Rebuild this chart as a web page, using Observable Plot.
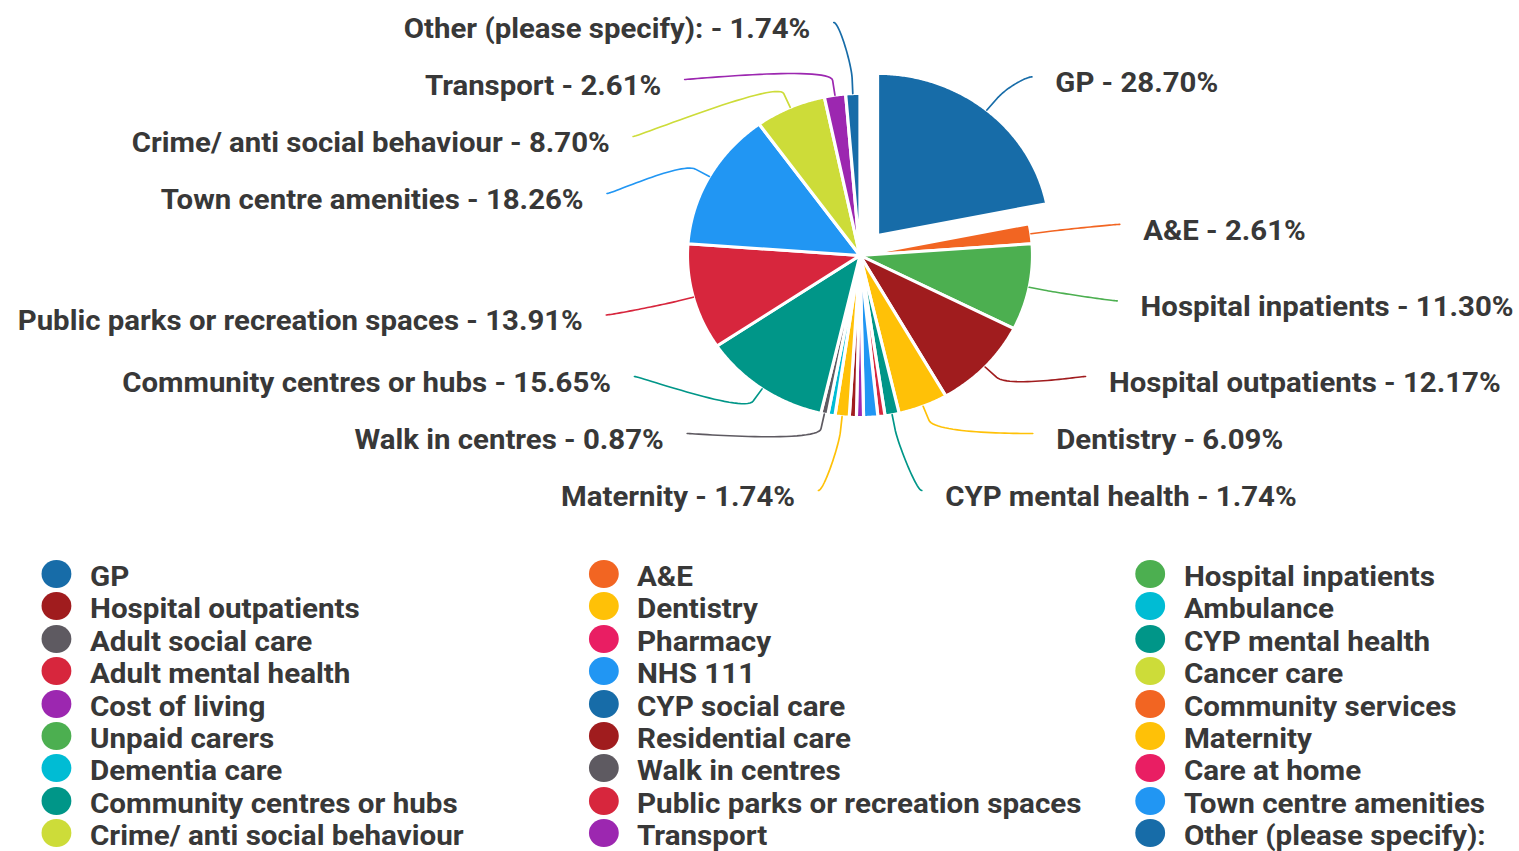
<!DOCTYPE html>
<html>
<head>
<meta charset="utf-8">
<script src="https://cdn.jsdelivr.net/npm/d3@7"></script>
<script src="https://cdn.jsdelivr.net/npm/@observablehq/plot@0.6"></script>
<style>
  html, body { margin: 0; padding: 0; background: #fff; overflow: hidden; }
  #wrap { position: relative; width: 1426px; height: 851px; transform: scaleX(1.065); transform-origin: 0 0; font-family: Roboto, "Noto Sans", sans-serif; }
  #legend { position: absolute; left: 0; top: 0; width: 1426px; }
  .item { position: absolute; height: 32.4px; line-height: 32.4px; white-space: nowrap; color: #383838; font-size: 27.8px; font-weight: 700; }
  .dot { position: absolute; left: 0; top: -1px; width: 28px; height: 28px; border-radius: 50%; }
  .lab { position: absolute; left: 45.3px; top: 0; }
</style>
</head>
<body>
<div id="wrap"><div id="chart"></div><div id="legend"></div></div>
<script>
// ---- data ----
const categories = [
  "GP", "A&E", "Hospital inpatients",
  "Hospital outpatients", "Dentistry", "Ambulance",
  "Adult social care", "Pharmacy", "CYP mental health",
  "Adult mental health", "NHS 111", "Cancer care",
  "Cost of living", "CYP social care", "Community services",
  "Unpaid carers", "Residential care", "Maternity",
  "Dementia care", "Walk in centres", "Care at home",
  "Community centres or hubs", "Public parks or recreation spaces", "Town centre amenities",
  "Crime/ anti social behaviour", "Transport", "Other (please specify):"
];
const percents = [
  28.70, 2.61, 11.30,
  12.17, 6.09, 0,
  0, 0, 1.74,
  0.87, 1.74, 0,
  0.87, 0, 0,
  0, 0.87, 1.74,
  0.87, 0.87, 0,
  15.65, 13.91, 18.26,
  8.70, 2.61, 1.74
];
const slicedCategories = ["GP"];
const palette = ["#176ca8", "#f26522", "#4caf50", "#a01c1e", "#ffc107", "#00bcd4", "#5e5a61",
                 "#e91e63", "#009688", "#d7263d", "#2196f3", "#cddc39", "#9c27b0"];

// ---- layout constants (pre-stretch pixels) ----
const W = 1426, H = 560;
const CX = 807, CY = 255, RADIUS = 162;
const LABEL_R = 231, BOX_H = 57, TOP = 22 - CY, BOTTOM = 490 - CY, MAX_SHIFT = 93;
const SLICE_OFFSET = 26, CONNECTOR_OFFSET = 15, LABEL_PAD = 15, TEXT_GAP = 22;

const total = d3.sum(percents);
let acc = 0;
const slices = categories.map((name, i) => {
  const v = percents[i];
  const a0 = acc / total * 2 * Math.PI; acc += v;
  const a1 = acc / total * 2 * Math.PI;
  return {name, v, a0, a1, mid: (a0 + a1) / 2, i};
}).filter(d => d.v > 0);

// slice polygons
const slicePts = [];
for (const s of slices) {
  const off = slicedCategories.includes(s.name) ? SLICE_OFFSET : 0;
  s.ox = off * Math.sin(s.mid); s.oy = -off * Math.cos(s.mid);
  slicePts.push({name: s.name, x: s.ox, y: s.oy});
  const n = Math.max(2, Math.ceil((s.a1 - s.a0) / (Math.PI / 360)));
  for (let k = 0; k <= n; k++) {
    const a = s.a0 + (s.a1 - s.a0) * k / n;
    slicePts.push({name: s.name, x: s.ox + RADIUS * Math.sin(a), y: s.oy - RADIUS * Math.cos(a)});
  }
}

// ---- label distribution ----
for (const s of slices) {
  s.right = s.mid < Math.PI;
  s.target = -LABEL_R * Math.cos(s.mid);
}
function place(items) {
  let clusters = items.map(d => ({items: [d], sum: d.target}));
  const pos = c => {
    const n = c.items.length, mean = c.sum / n;
    return Math.max(TOP, Math.min(BOTTOM - (n - 1) * BOX_H, mean - (n - 1) * BOX_H / 2));
  };
  let merged = true;
  while (merged) {
    merged = false;
    for (let i = 0; i < clusters.length - 1; i++) {
      const a = clusters[i], b = clusters[i + 1];
      if (pos(a) + a.items.length * BOX_H > pos(b) + 1e-9) {
        clusters.splice(i, 2, {items: a.items.concat(b.items), sum: a.sum + b.sum});
        merged = true; break;
      }
    }
  }
  for (const c of clusters) { const p = pos(c); c.items.forEach((d, k) => d.ly = p + k * BOX_H); }
}
function layoutSide(cands) {
  let kept = cands.slice();
  while (kept.length) {
    const sorted = kept.slice().sort((a, b) => a.target - b.target);
    place(sorted);
    const bad = sorted.some(d => Math.abs(d.ly - d.target) > MAX_SHIFT || d.ly > BOTTOM + 0.01 || d.ly < TOP - 0.01);
    if (!bad) return kept;
    kept.pop();
  }
  return kept;
}
const rightC = slices.filter(s => s.right).sort((a, b) => a.mid - b.mid);
const leftC = slices.filter(s => !s.right).sort((a, b) => b.mid - a.mid);
const rankSort = arr => arr.map((d, k) => [d, k]).sort((a, b) => (b[0].v - a[0].v) || (a[1] - b[1])).map(d => d[0]);
const labelled = [...layoutSide(rankSort(rightC)), ...layoutSide(rankSort(leftC))];
for (const s of labelled) {
  const dir = s.right ? 1 : -1;
  const atBound = Math.abs(s.ly - TOP) < 0.01 || Math.abs(s.ly - BOTTOM) < 0.01;
  const yy = atBound ? s.target : s.ly;
  const off = Math.sqrt(Math.max(0, LABEL_R * LABEL_R - yy * yy));
  s.lx = dir * (off + LABEL_PAD);
  s.tx = s.lx + dir * TEXT_GAP;
  s.label = `${s.name} - ${s.v.toFixed(2)}%`;
}

// connectors
const connPts = [];
for (const s of labelled) {
  const dir = s.right ? 1 : -1;
  const sx = Math.sin(s.mid), sy = -Math.cos(s.mid);
  const tx = s.ox + RADIUS * sx, ty = s.oy + RADIUS * sy;
  const bx = s.ox + (RADIUS + CONNECTOR_OFFSET) * sx, by = s.oy + (RADIUS + CONNECTOR_OFFSET) * sy;
  const p0 = [s.lx, s.ly], p1 = [s.lx - dir * 5, s.ly], p2 = [2 * bx - tx, 2 * by - ty], p3 = [bx, by];
  for (let k = 0; k <= 30; k++) {
    const t = k / 30, u = 1 - t;
    const x = u*u*u*p0[0] + 3*u*u*t*p1[0] + 3*u*t*t*p2[0] + t*t*t*p3[0];
    const y = u*u*u*p0[1] + 3*u*u*t*p1[1] + 3*u*t*t*p2[1] + t*t*t*p3[1];
    connPts.push({name: s.name, x, y});
  }
  connPts.push({name: s.name, x: tx, y: ty});
}

const colorRange = categories.map((_, i) => palette[i % palette.length]);
const textStyle = {fontSize: 27.6, fontWeight: 700, fill: "#383838", dy: 6.5};

const chart = Plot.plot({
  width: W, height: H,
  marginTop: 0, marginRight: 0, marginBottom: 0, marginLeft: 0,
  x: {domain: [-CX, W - CX], range: [0, W], axis: null},
  y: {domain: [-CY, H - CY], range: [0, H], axis: null},
  color: {domain: categories, range: colorRange},
  style: {fontFamily: "Roboto, 'Noto Sans', sans-serif", background: "transparent", overflow: "visible"},
  marks: [
    Plot.line(slicePts, {x: "x", y: "y", z: "name", fill: "name", stroke: "#ffffff", strokeWidth: 3, curve: "linear-closed"}),
    Plot.line(connPts, {x: "x", y: "y", z: "name", stroke: "name", strokeWidth: 1.6, curve: "linear"}),
    Plot.text(labelled.filter(d => d.right), {x: "tx", y: "ly", text: "label", textAnchor: "start", ...textStyle}),
    Plot.text(labelled.filter(d => !d.right), {x: "tx", y: "ly", text: "label", textAnchor: "end", ...textStyle})
  ]
});
document.getElementById("chart").appendChild(chart);

// ---- legend (HTML, colours from the plot's colour scale) ----
const cs = chart.scale("color");
const colorOf = d3.scaleOrdinal(cs.domain, cs.range);
const legend = document.getElementById("legend");
const COL0 = 39.2, COL_W = 513.6, ROW0 = 561, ROW_H = 32.375;
categories.forEach((name, i) => {
  const item = document.createElement("div");
  item.className = "item";
  item.style.left = (COL0 + (i % 3) * COL_W) + "px";
  item.style.top = (ROW0 + Math.floor(i / 3) * ROW_H) + "px";
  const dot = document.createElement("span");
  dot.className = "dot";
  dot.style.background = colorOf(name);
  const lab = document.createElement("span");
  lab.className = "lab";
  lab.textContent = name;
  item.appendChild(dot); item.appendChild(lab);
  legend.appendChild(item);
});
</script>
</body>
</html>
